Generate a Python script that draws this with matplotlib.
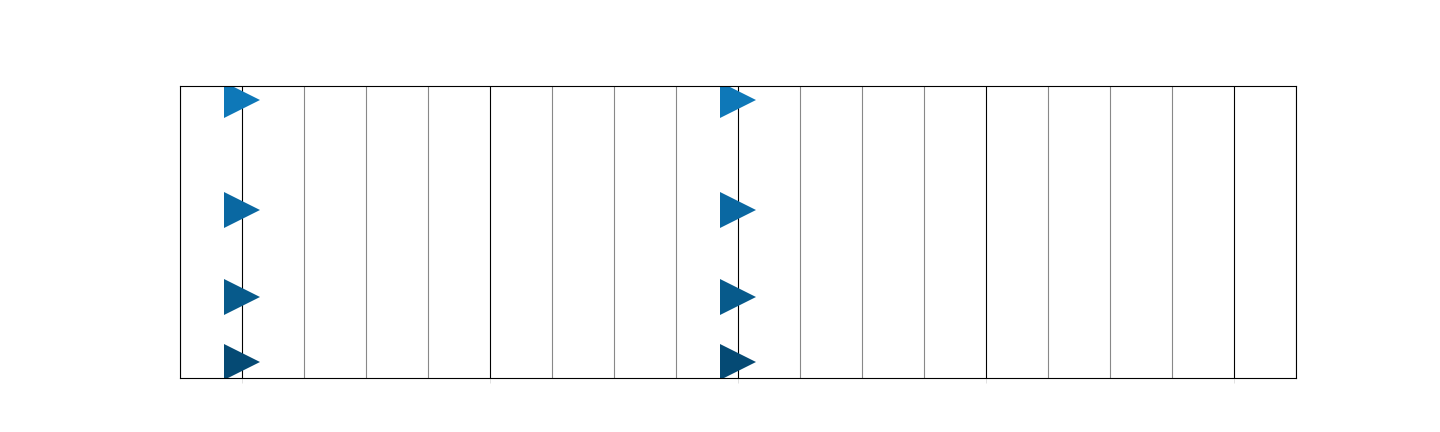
import matplotlib
matplotlib.use("Agg")
import matplotlib.pyplot as plt
from matplotlib.ticker import MultipleLocator, NullFormatter

# Data
x_positions = [0, 2]
y_values = [0.952, 0.575, 0.277, 0.055]
colors = ["#0e78b8", "#0a68a2", "#075a8b", "#054a74"]

fig = plt.figure(figsize=(14.4, 4.32), dpi=100)
ax = fig.add_axes([0.125, 0.125, 0.775, 0.676])

for y, c in zip(y_values, colors):
    ax.plot(x_positions, [y, y], linestyle="none", marker=">",
            markersize=26, color=c, markeredgewidth=0)

ax.set_xlim(-0.25, 4.25)
ax.set_ylim(0, 1)
ax.xaxis.set_major_locator(MultipleLocator(1))
ax.xaxis.set_minor_locator(MultipleLocator(0.25))
ax.xaxis.set_major_formatter(NullFormatter())
ax.set_yticks([])
ax.grid(which="major", axis="x", color="black", linewidth=0.8)
ax.grid(which="minor", axis="x", color="#888888", linewidth=0.8)
ax.set_axisbelow(True)
ax.tick_params(axis="x", which="major", length=3.5, width=0.6, color="#dddddd")
ax.tick_params(axis="x", which="minor", length=0)
for s in ax.spines.values():
    s.set_linewidth(0.8)

fig.savefig("out.png", dpi=100)
